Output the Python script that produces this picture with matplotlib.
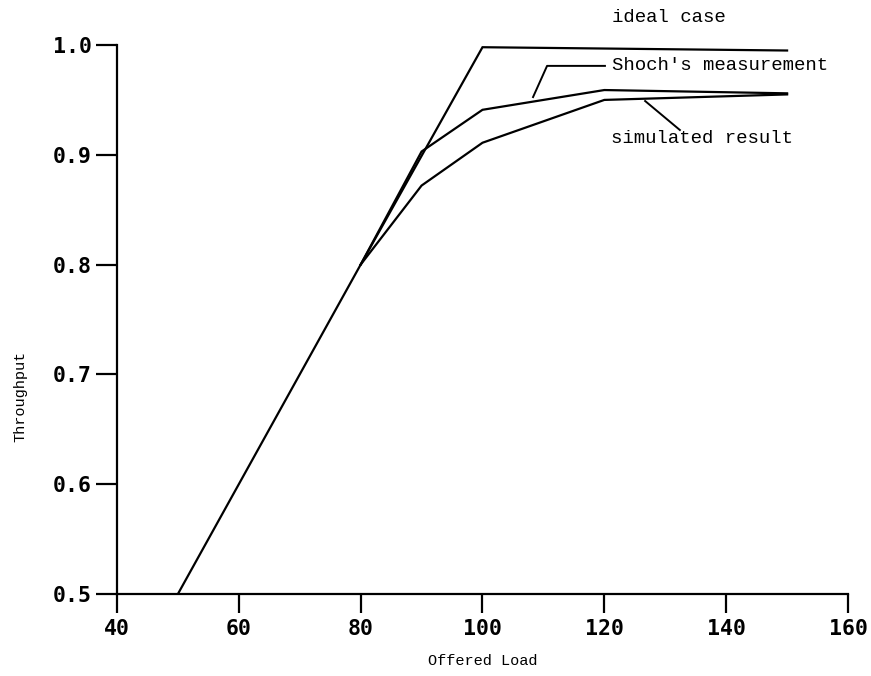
import matplotlib
matplotlib.use("Agg")
import matplotlib.pyplot as plt

# Throughput vs offered load: ideal case, Shoch's measurement, simulation
IDEAL_X = [50, 80, 100, 150]
IDEAL_Y = [0.5, 0.8, 0.998, 0.995]
SHOCH_X = [80, 90, 100, 120, 150]
SHOCH_Y = [0.8, 0.903, 0.941, 0.959, 0.956]
SIM_X = [80, 90, 100, 120, 150]
SIM_Y = [0.8, 0.872, 0.911, 0.950, 0.955]

X_TICKS = [40, 60, 80, 100, 120, 140, 160]
Y_TICKS = [0.5, 0.6, 0.7, 0.8, 0.9, 1.0]

MONO = "Liberation Mono"
TICKFONT = "DejaVu Sans Mono"

fig = plt.figure(figsize=(8.71, 6.76), dpi=100)
ax = fig.add_axes([0.1343, 0.1213, 0.8393, 0.8121])

kw = dict(color="black", lw=1.6, solid_joinstyle="miter")
ax.plot(IDEAL_X, IDEAL_Y, **kw)
ax.plot(SHOCH_X, SHOCH_Y, **kw)
ax.plot(SIM_X, SIM_Y, **kw)

ax.set_xlim(40, 160)
ax.set_ylim(0.5, 1.0)
ax.set_xticks(X_TICKS)
ax.set_yticks(Y_TICKS)
ax.set_xticklabels([str(v) for v in X_TICKS], family=TICKFONT,
                   fontsize=15.5, fontweight="bold")
ax.set_yticklabels([f"{v:.1f}" for v in Y_TICKS], family=TICKFONT,
                   fontsize=15.5, fontweight="bold")
ax.tick_params(axis="y", direction="out", length=15, width=1.6, pad=3)
ax.tick_params(axis="x", direction="out", length=14, width=1.6, pad=4)

for side in ("top", "right"):
    ax.spines[side].set_visible(False)
for side in ("left", "bottom"):
    ax.spines[side].set_linewidth(1.6)

ax.set_xlabel("Offered Load", family=MONO, fontsize=11, labelpad=11)
ax.set_ylabel("Throughput", family=MONO, fontsize=11)
ax.yaxis.set_label_coords(-0.122, 0.36)

# curve labels with leader lines
ax.text(121.3, 1.025, "ideal case", family=MONO, fontsize=13.7,
        va="center", ha="left", clip_on=False)
ax.plot([108.3, 110.6, 120.1], [0.9526, 0.981, 0.981], color="black", lw=1.4)
ax.text(121.3, 0.981, "Shoch's measurement", family=MONO, fontsize=13.7,
        va="center", ha="left")
ax.plot([126.7, 132.4], [0.949, 0.9226], color="black", lw=1.4)
ax.text(121.1, 0.915, "simulated result", family=MONO, fontsize=13.7,
        va="center", ha="left")

fig.savefig("out.png", dpi=100)
